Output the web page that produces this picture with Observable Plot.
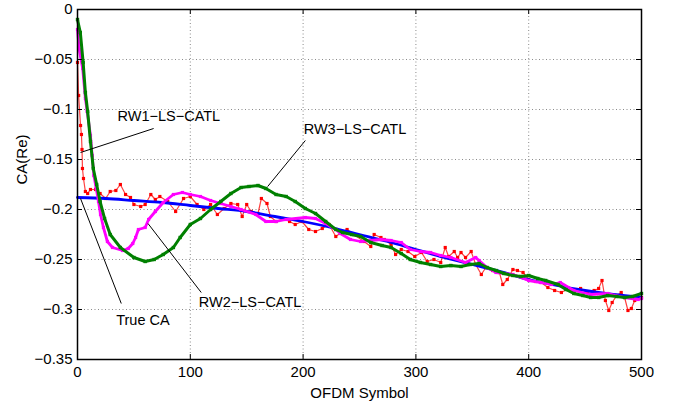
<!DOCTYPE html>
<html><head><meta charset="utf-8">
<script src="https://cdn.jsdelivr.net/npm/d3@7"></script>
<script src="https://cdn.jsdelivr.net/npm/@observablehq/plot@0.6"></script>
<style>body{margin:0;background:#fff} svg{font-family:"Liberation Sans",Arial,sans-serif}</style>
</head><body><div id="chart"></div>
<script>
const xTicks = [0, 100, 200, 300, 400, 500];
const yTicks = [0, -0.05, -0.1, -0.15, -0.2, -0.25, -0.3, -0.35];

const trueX = [0,25,50,75,100,125,150,175,200,225,250,275,300,325,350,375,400,425,450,475,500];
const trueY = [-0.188,-0.189,-0.191,-0.193,-0.196,-0.199,-0.202,-0.207,-0.212,-0.218,-0.225,-0.232,-0.240,-0.248,-0.255,-0.262,-0.270,-0.276,-0.281,-0.285,-0.288];

const rw3X = [0,2.5,5,7,9,11.5,14,17,20,24,29,38,50,60,68,76,85,91,100,109,118,127,136,145,152,160,167,176,185,193,202,211,220,229,235,243,251,260,270,278,287,295,304,313,322,331,340,348,356,363,371,378,386,393,400,408,415,426,433,440,448,455,462,470,478,485,492,500];
const rw3Y = [-0.010,-0.023,-0.053,-0.083,-0.102,-0.132,-0.159,-0.175,-0.192,-0.209,-0.225,-0.238,-0.248,-0.252,-0.250,-0.245,-0.238,-0.228,-0.215,-0.209,-0.200,-0.192,-0.184,-0.178,-0.177,-0.176,-0.179,-0.185,-0.187,-0.192,-0.199,-0.204,-0.212,-0.220,-0.223,-0.225,-0.227,-0.233,-0.236,-0.238,-0.244,-0.250,-0.253,-0.255,-0.257,-0.256,-0.257,-0.255,-0.254,-0.258,-0.261,-0.264,-0.266,-0.267,-0.266,-0.269,-0.271,-0.275,-0.280,-0.284,-0.286,-0.288,-0.288,-0.286,-0.287,-0.288,-0.287,-0.284];

const rw2X = [0,1.5,4.6,7,8.6,11.5,13,14.5,16.6,18.6,20.4,23,26.5,31,40,45,49,51.5,54,60,63,69,76,85,93,100,109,118,127,136,145,158,167,176,185,202,211,220,229,233,242,251,260,269,278,287,295,304,313,322,331,344,353,356,363,371,386,400,411,420,428,440,455,470,485,497,500];
const rw2Y = [-0.020,-0.040,-0.059,-0.089,-0.102,-0.126,-0.146,-0.166,-0.179,-0.192,-0.205,-0.218,-0.232,-0.238,-0.241,-0.239,-0.234,-0.228,-0.220,-0.218,-0.210,-0.202,-0.193,-0.185,-0.183,-0.185,-0.187,-0.191,-0.194,-0.197,-0.200,-0.205,-0.212,-0.212,-0.210,-0.208,-0.209,-0.214,-0.220,-0.224,-0.230,-0.232,-0.231,-0.230,-0.231,-0.233,-0.240,-0.242,-0.243,-0.246,-0.248,-0.253,-0.248,-0.251,-0.258,-0.263,-0.265,-0.271,-0.273,-0.275,-0.273,-0.281,-0.285,-0.284,-0.288,-0.290,-0.289];

const rw1X = [0,1,2.7,3.5,4,4.4,5.3,7,9,11.5,16,20,25,29,34,38,42.6,47,50,56,60,65,69,73,80,87,94,100,106,112,118,124,130,136,142,146,150,154,160,163,168,171,176,182,188,193,199,205,211,217,223,229,235,239,245,254,260,263,269,272,278,282,287,293,299,305,310,316,322,326,329,334,337,340,344,349,353,358,362,368,374,377,381,386,390,395,400,406,411,417,423,429,435,440,446,452,458,462,465,468,471,474,478,482,485,488,491,494,497,500];
const rw1Y = [-0.053,-0.086,-0.116,-0.125,-0.140,-0.159,-0.169,-0.182,-0.184,-0.180,-0.180,-0.184,-0.189,-0.182,-0.181,-0.175,-0.185,-0.188,-0.195,-0.197,-0.195,-0.185,-0.190,-0.187,-0.192,-0.202,-0.189,-0.187,-0.195,-0.200,-0.195,-0.205,-0.199,-0.194,-0.195,-0.207,-0.195,-0.202,-0.204,-0.189,-0.194,-0.207,-0.212,-0.209,-0.212,-0.215,-0.212,-0.220,-0.222,-0.219,-0.215,-0.227,-0.222,-0.220,-0.225,-0.232,-0.237,-0.225,-0.228,-0.230,-0.235,-0.245,-0.240,-0.242,-0.247,-0.243,-0.252,-0.250,-0.253,-0.238,-0.247,-0.242,-0.248,-0.243,-0.248,-0.242,-0.255,-0.265,-0.258,-0.261,-0.263,-0.275,-0.270,-0.260,-0.261,-0.263,-0.270,-0.272,-0.273,-0.278,-0.281,-0.283,-0.279,-0.283,-0.279,-0.283,-0.281,-0.279,-0.271,-0.291,-0.301,-0.293,-0.286,-0.283,-0.288,-0.301,-0.299,-0.291,-0.289,-0.288];

const annLabels = ["RW1−LS−CATL", "RW3−LS−CATL", "RW2−LS−CATL", "True CA"];
const annTextX = [81, 246, 153, 58];
const annTextY = [-0.107, -0.120, -0.293, -0.311];
const annFromX = [67.5, 202, 109.7, 38.8];
const annFromY = [-0.119, -0.131, -0.283, -0.294];
const annToX = [2.7, 168.6, 62.5, 2.7];
const annToY = [-0.143, -0.177, -0.214, -0.189];

const pts = (xs, ys) => xs.map((x, i) => ({x, y: ys[i]}));
const trueCA = pts(trueX, trueY);
const rw1 = pts(rw1X, rw1Y);
const rw2 = pts(rw2X, rw2Y);
const rw3 = pts(rw3X, rw3Y);
const ann = annLabels.map((t, i) => ({t, x: annTextX[i], y: annTextY[i], x1: annFromX[i], y1: annFromY[i], x2: annToX[i], y2: annToY[i]}));

const W = 680, H = 415, mL = 77, mR = 39, mT = 9, mB = 56;
const tx = 500 * 5 / (W - mL - mR);
const ty = 0.35 * 5 / (H - mT - mB);

const chart = Plot.plot({
  width: W, height: H,
  marginLeft: mL, marginRight: mR, marginTop: mT, marginBottom: mB,
  x: {domain: [0, 500]},
  y: {domain: [-0.35, 0]},
  style: {fontFamily: "Liberation Sans, Arial, sans-serif", background: "#fff", color: "#000"},
  marks: [
    Plot.gridX(xTicks, {stroke: "#8a8a8a", strokeOpacity: 1, strokeDasharray: "1,2.5"}),
    Plot.gridY(yTicks, {stroke: "#8a8a8a", strokeOpacity: 1, strokeDasharray: "1,2.5"}),
    Plot.line(rw1, {x: "x", y: "y", stroke: "#ff0000", strokeWidth: 1.2, strokeOpacity: 0.75}),
    Plot.dot(rw1, {x: "x", y: "y", symbol: "square", r: 1.8, fill: "#ff0000", stroke: "none"}),
    Plot.line(trueCA, {x: "x", y: "y", stroke: "#0000ff", strokeWidth: 2.8, curve: "monotone-x"}),
    Plot.line(rw2, {x: "x", y: "y", stroke: "#ff00ff", strokeWidth: 2.8}),
    Plot.dot(rw2, {x: "x", y: "y", symbol: "square", r: 1.8, fill: "#ff00ff", stroke: "none"}),
    Plot.line(rw3, {x: "x", y: "y", stroke: "#008000", strokeWidth: 3}),
    Plot.dot(rw3, {x: "x", y: "y", symbol: "square", r: 1.9, fill: "#008000", stroke: "none"}),
    Plot.frame({stroke: "#000", strokeWidth: 1.5}),
    Plot.ruleX(xTicks, {y1: -0.35, y2: -0.35 + ty, stroke: "#000"}),
    Plot.ruleX(xTicks, {y1: 0, y2: -ty, stroke: "#000"}),
    Plot.ruleY(yTicks, {x1: 0, x2: tx, stroke: "#000"}),
    Plot.ruleY(yTicks, {x1: 500, x2: 500 - tx, stroke: "#000"}),
    Plot.axisX({ticks: xTicks, tickSize: 0, tickPadding: 7, fontSize: 15, label: null}),
    Plot.axisY({ticks: yTicks, tickSize: 0, tickPadding: 5, fontSize: 15, label: null,
      tickFormat: d => d === 0 ? "0" : d3.format("")(d)}),
    Plot.link(ann, {x1: "x1", y1: "y1", x2: "x2", y2: "y2", stroke: "#000", strokeWidth: 1}),
    Plot.text(ann, {x: "x", y: "y", text: "t", fontSize: 14.5, fill: "#000"}),
    Plot.text(["OFDM Symbol"], {frameAnchor: "bottom", dy: 38, fontSize: 15, fill: "#000"}),
    Plot.text(["CA(Re)"], {frameAnchor: "left", dx: -55, rotate: -90, fontSize: 15, fill: "#000"})
  ]
});
document.getElementById("chart").appendChild(chart);
</script>
</body></html>
